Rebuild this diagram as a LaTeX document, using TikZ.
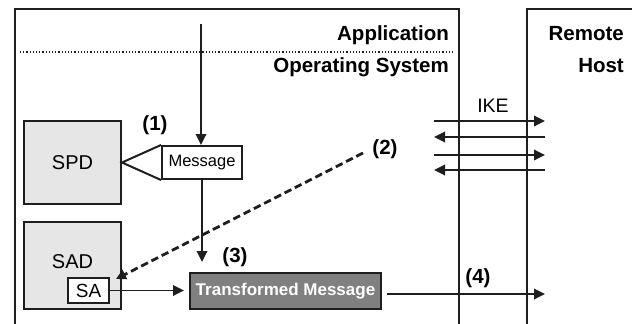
\documentclass[tikz,border=0pt]{standalone}
\usepackage{fontspec}
\setmainfont{Liberation Sans}
\usetikzlibrary{arrows.meta,positioning,calc}
\definecolor{PanelGray}{HTML}{E6E6E6}
\definecolor{SealGray}{HTML}{808080}
\definecolor{EdgeDark}{HTML}{1E1E1E}

\tikzset{
  frame/.style={line width=2pt, draw=EdgeDark},
  store/.style={draw=EdgeDark, line width=2pt, fill=PanelGray, inner sep=0pt},
  tag/.style={font=\fontsize{20.5}{24}\selectfont\bfseries, inner sep=0pt},
  plain/.style={font=\fontsize{20}{24}\selectfont, inner sep=0pt},
  flow/.style={-{Triangle[length=11pt,width=10.5pt]}, line width=1.8pt, draw=EdgeDark},
}

\begin{document}
\begin{tikzpicture}[x=1pt,y=-1pt]
  \useasboundingbox (0,0) rectangle (632,324);
  % local host and remote host outlines
  \draw[frame] (15,324) -- (15,9) -- (459,9) -- (459,324);
  \draw[frame] (527,324) -- (527,9) -- (632,9);
  % application / OS split
  \draw[line width=2.2pt, dash pattern=on 1.2pt off 2pt, draw=EdgeDark]
    (20,52) -- (454,52);
  \node[tag, anchor=base east] (app) at (449,40.5) {Application};
  \node[tag, anchor=base east] (os) at (449,72.5) {Operating System};
  \node[tag, anchor=base east] (remote) at (624,40.5) {Remote};
  \node[tag, anchor=base east] (host) at (624,72.5) {Host};
  % databases
  \node[store, minimum width=97pt, minimum height=83pt] (spd)
    at (72.5,162.5) {\fontsize{20}{24}\selectfont SPD};
  \node[store, minimum width=97pt, minimum height=87pt] (sad)
    at (72.5,265.5) {};
  \node[plain] (sadlbl) at (72.5,262) {SAD};
  \node[store, fill=white, minimum width=41pt, minimum height=25pt] (sa)
    at (88.5,290.5) {\fontsize{19}{22}\selectfont SA};
  % messages
  \node[store, fill=white, minimum width=80pt, minimum height=33pt] (msg)
    at (202,162.5) {\fontsize{16.5}{20}\selectfont Message};
  \node[store, fill=SealGray, minimum width=191pt, minimum height=36pt,
    text=white, font=\fontsize{17}{20}\selectfont\bfseries] (tm)
    at (285.5,291) {Transformed Message};
  % step labels
  \node[tag] (s1) at (155,125) {(1)};
  \node[tag] (s2) at (385,149) {(2)};
  \node[tag] (s3) at (235,257) {(3)};
  \node[tag] (s4) at (478,278) {(4)};
  \node[plain, anchor=base, font=\fontsize{19.5}{22}\selectfont] (ike)
    at (493,112) {IKE};
  % connectors
  \coordinate (apptop) at (201,24);
  \draw[flow] (apptop) -- (msg.north -| apptop);
  \draw[line width=2pt, draw=EdgeDark, line join=miter]
    (msg.north west) -- (spd.east) -- (msg.south west);
  \draw[flow, shorten >=10pt] (msg.south) -- (msg.south |- tm.north);
  \draw[flow, shorten >=5pt] (sa.east) -- (sa.east -| tm.west);
  \coordinate (sareq) at (363,153);
  \draw[-{Triangle[length=10pt,width=10pt]}, line width=2.8pt,
    dash pattern=on 7.5pt off 4pt, draw=EdgeDark]
    (sareq) -- ($(sa.north east)+(6,2)$);
  \coordinate (out4) at (545,294);
  \draw[flow, shorten <=5pt] (tm.east |- out4) -- (out4);
  % IKE exchange
  \foreach \yy/\tip in {121/->,137/<-,155/->,170/<-}{
    \coordinate (ikeW\yy) at (434,\yy);
    \coordinate (ikeE\yy) at (545,\yy);
    \draw[line width=1.8pt, draw=EdgeDark,
      >={Triangle[length=11pt,width=10.5pt]}, \tip] (ikeW\yy) -- (ikeE\yy);
  }
\end{tikzpicture}
\end{document}
